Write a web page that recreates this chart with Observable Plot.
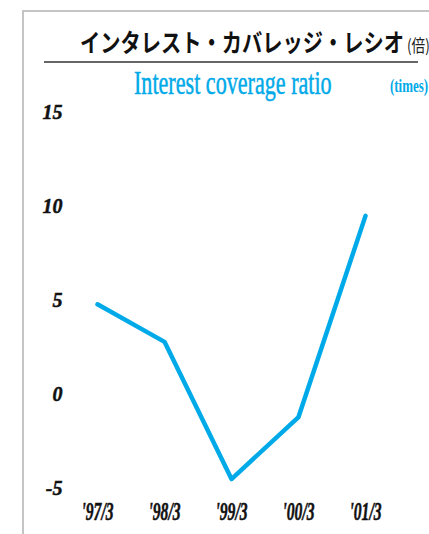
<!DOCTYPE html>
<html>
<head>
<meta charset="utf-8">
<script src="https://cdn.jsdelivr.net/npm/d3@7"></script>
<script src="https://cdn.jsdelivr.net/npm/@observablehq/plot@0.6"></script>
<style>
  html, body { margin: 0; padding: 0; background: #fff; }
  #wrap { position: relative; width: 429px; height: 534px; overflow: hidden; }
  #frame { position: absolute; left: 22px; top: 10px; width: 420px; height: 540px;
           border-left: 2px solid #c4c4c4; border-top: 2px solid #c4c4c4; }
  .abs { position: absolute; white-space: nowrap; transform-origin: 0 0; }
  #title { left: 80px; top: 26px; font-family: "Noto Sans CJK JP"; font-weight: 700;
           font-size: 25px; line-height: 30px; transform: scaleX(0.81); color: #111; }
  #unit { left: 407px; top: 34px; font-family: "Noto Sans CJK JP"; font-size: 17px;
          line-height: 22px; color: #222; transform: scaleX(0.8); }
  #rule { position: absolute; left: 44px; top: 61px; width: 374px; border-top: 2px solid #666; }
  #sub { left: 134px; top: 64px; font-family: "Liberation Serif"; font-size: 33px;
         line-height: 38px; color: #00aae8; transform: scaleX(0.67); -webkit-text-stroke: 0.5px #00aae8; }
  #times { left: 390px; top: 75px; font-family: "Liberation Serif"; font-weight: 700;
           font-size: 19px; line-height: 22px; color: #00aae8; transform: scaleX(0.68); }
  #chart { position: absolute; left: 0; top: 100px; }
</style>
</head>
<body>
<div id="wrap">
  <div id="frame"></div>
  <div class="abs" id="title">インタレスト・カバレッジ・レシオ</div>
  <div class="abs" id="unit">(倍)</div>
  <div id="rule"></div>
  <div class="abs" id="sub">Interest coverage ratio</div>
  <div class="abs" id="times">(times)</div>
  <div id="chart"></div>
</div>
<script>
const periods = ["'97/3", "'98/3", "'99/3", "'00/3", "'01/3"];
const ratios = [4.8, 2.8, -4.5, -1.2, 9.5];
const yTicks = [-5, 0, 5, 10, 15];

const data = periods.map((p, i) => ({period: p, ratio: ratios[i]}));

const chart = Plot.plot({
  width: 429,
  height: 434,
  marginTop: 12,
  marginBottom: 46,
  marginLeft: 96,
  marginRight: 63,
  x: {type: "point", domain: periods, padding: 0},
  y: {domain: [-5, 15]},
  marks: [
    Plot.axisY({ticks: yTicks, tickSize: 0, tickPadding: 34, label: null, tickFormat: d => String(d),
      fontFamily: "Liberation Serif", fontWeight: "bold", fontStyle: "italic", fontSize: 20, fill: "#111"}),
    Plot.axisX({tickSize: 0, tickPadding: 13, label: null,
      fontFamily: "Liberation Serif", fontWeight: "bold", fontStyle: "italic", fontSize: 26, fill: "#111"}),
    Plot.line(data, {x: "period", y: "ratio", stroke: "#00aae8", strokeWidth: 4.5,
      strokeLinejoin: "round", strokeLinecap: "round"})
  ]
});
chart.style.overflow = "visible";
document.getElementById("chart").appendChild(chart);

// condense x tick labels
chart.querySelectorAll('g[aria-label="x-axis tick label"] text').forEach(t => {
  const tr = t.getAttribute("transform");
  if (tr) t.setAttribute("transform", tr + " scale(0.6,1)");
  t.setAttribute("stroke", "#111");
  t.setAttribute("stroke-width", "0.6");
});
chart.querySelectorAll('g[aria-label="y-axis tick label"] text').forEach(t => {
  t.setAttribute("stroke", "#111");
  t.setAttribute("stroke-width", "0.5");
});
</script>
</body>
</html>
